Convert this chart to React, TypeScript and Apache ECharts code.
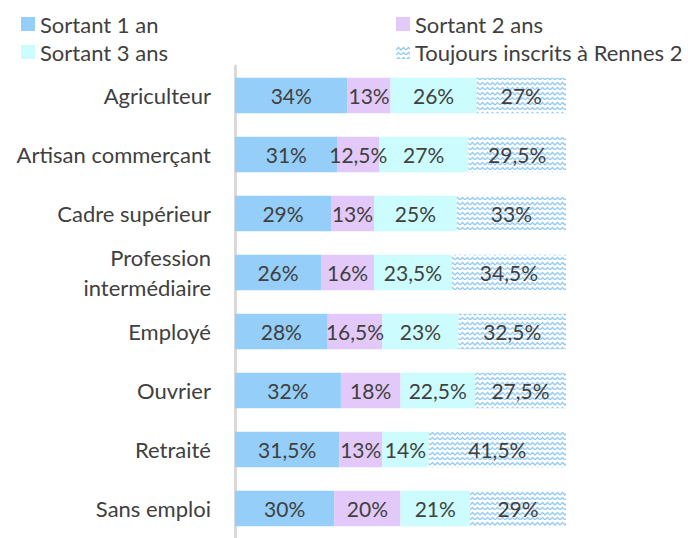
import React, { useEffect, useRef } from "react";
import * as echarts from "echarts";

const categories = [
  "Agriculteur",
  "Artisan commerçant",
  "Cadre supérieur",
  "Profession\nintermédiaire",
  "Employé",
  "Ouvrier",
  "Retraité",
  "Sans emploi",
];
const seriesNames = ["Sortant 1 an", "Sortant 2 ans", "Sortant 3 ans", "Toujours inscrits à Rennes 2"];
const sortant1 = [34, 31, 29, 26, 28, 32, 31.5, 30];
const sortant2 = [13, 12.5, 13, 16, 16.5, 18, 13, 20];
const sortant3 = [26, 27, 25, 23.5, 23, 22.5, 14, 21];
const toujours = [27, 29.5, 33, 34.5, 32.5, 27.5, 41.5, 29];

function makePattern(): HTMLCanvasElement {
  const c = document.createElement("canvas");
  c.width = 10;
  c.height = 10;
  const ctx = c.getContext("2d")!;
  ctx.fillStyle = "#ffffff";
  ctx.fillRect(0, 0, 10, 10);
  ctx.strokeStyle = "#93cbf7";
  ctx.lineWidth = 1.3;
  ctx.beginPath();
  ctx.moveTo(0, 5);
  ctx.lineTo(2.5, 2.5);
  ctx.lineTo(5, 5);
  ctx.lineTo(7.5, 2.5);
  ctx.lineTo(10, 5);
  ctx.moveTo(0, 10);
  ctx.lineTo(2.5, 7.5);
  ctx.lineTo(5, 10);
  ctx.lineTo(7.5, 7.5);
  ctx.lineTo(10, 10);
  ctx.stroke();
  return c;
}

export default function App() {
  const ref = useRef<HTMLDivElement>(null);
  useEffect(() => {
    if (!ref.current) return;
    const chart = echarts.init(ref.current, null, { renderer: "svg" });
    const font = "Lato, 'Open Sans', sans-serif";
    const pattern = { image: makePattern(), repeat: "repeat" } as any;
    const colors = ["#94cef9", "#e3c9f9", "#ccfcfd", pattern];
    const data = [sortant1, sortant2, sortant3, toujours];
    const fmt = (p: any) => String(p.value).replace(".", ",") + "%";
    const legendText = { fontSize: 22, color: "#404040", fontFamily: font, lineHeight: 22 };
    chart.setOption({
      animation: false,
      textStyle: { fontFamily: font },
      legend: [
        {
          data: [seriesNames[0], seriesNames[2]],
          orient: "vertical",
          left: 21,
          top: 13,
          padding: 0,
          itemWidth: 14,
          itemHeight: 14,
          itemGap: 6,
          icon: "rect",
          textStyle: legendText,
        },
        {
          data: [seriesNames[1], seriesNames[3]],
          orient: "vertical",
          left: 396,
          top: 13,
          padding: 0,
          itemWidth: 14,
          itemHeight: 14,
          itemGap: 6,
          icon: "rect",
          textStyle: legendText,
        },
      ],
      grid: { left: 235, right: 122, top: 66, bottom: -10, containLabel: false },
      xAxis: { type: "value", min: 0, max: 100, show: false },
      yAxis: {
        type: "category",
        inverse: true,
        data: categories,
        axisTick: { show: false },
        axisLine: { show: true, lineStyle: { color: "#d9d9d9", width: 3 } },
        axisLabel: { fontSize: 22, color: "#404040", margin: 24, fontFamily: font, lineHeight: 30, align: "right" },
      },
      series: data.map((d, i) => ({
        name: seriesNames[i],
        type: "bar",
        stack: "total",
        data: d,
        barCategoryGap: "40%",
        itemStyle: { color: colors[i] },
        label: { show: true, position: "inside", formatter: fmt, fontSize: 21, color: "#404040", fontFamily: font },
      })),
    });
    return () => chart.dispose();
  }, []);
  return <div ref={ref} style={{ width: 688, height: 538, position: "absolute", left: 0, top: 0 }} />;
}
